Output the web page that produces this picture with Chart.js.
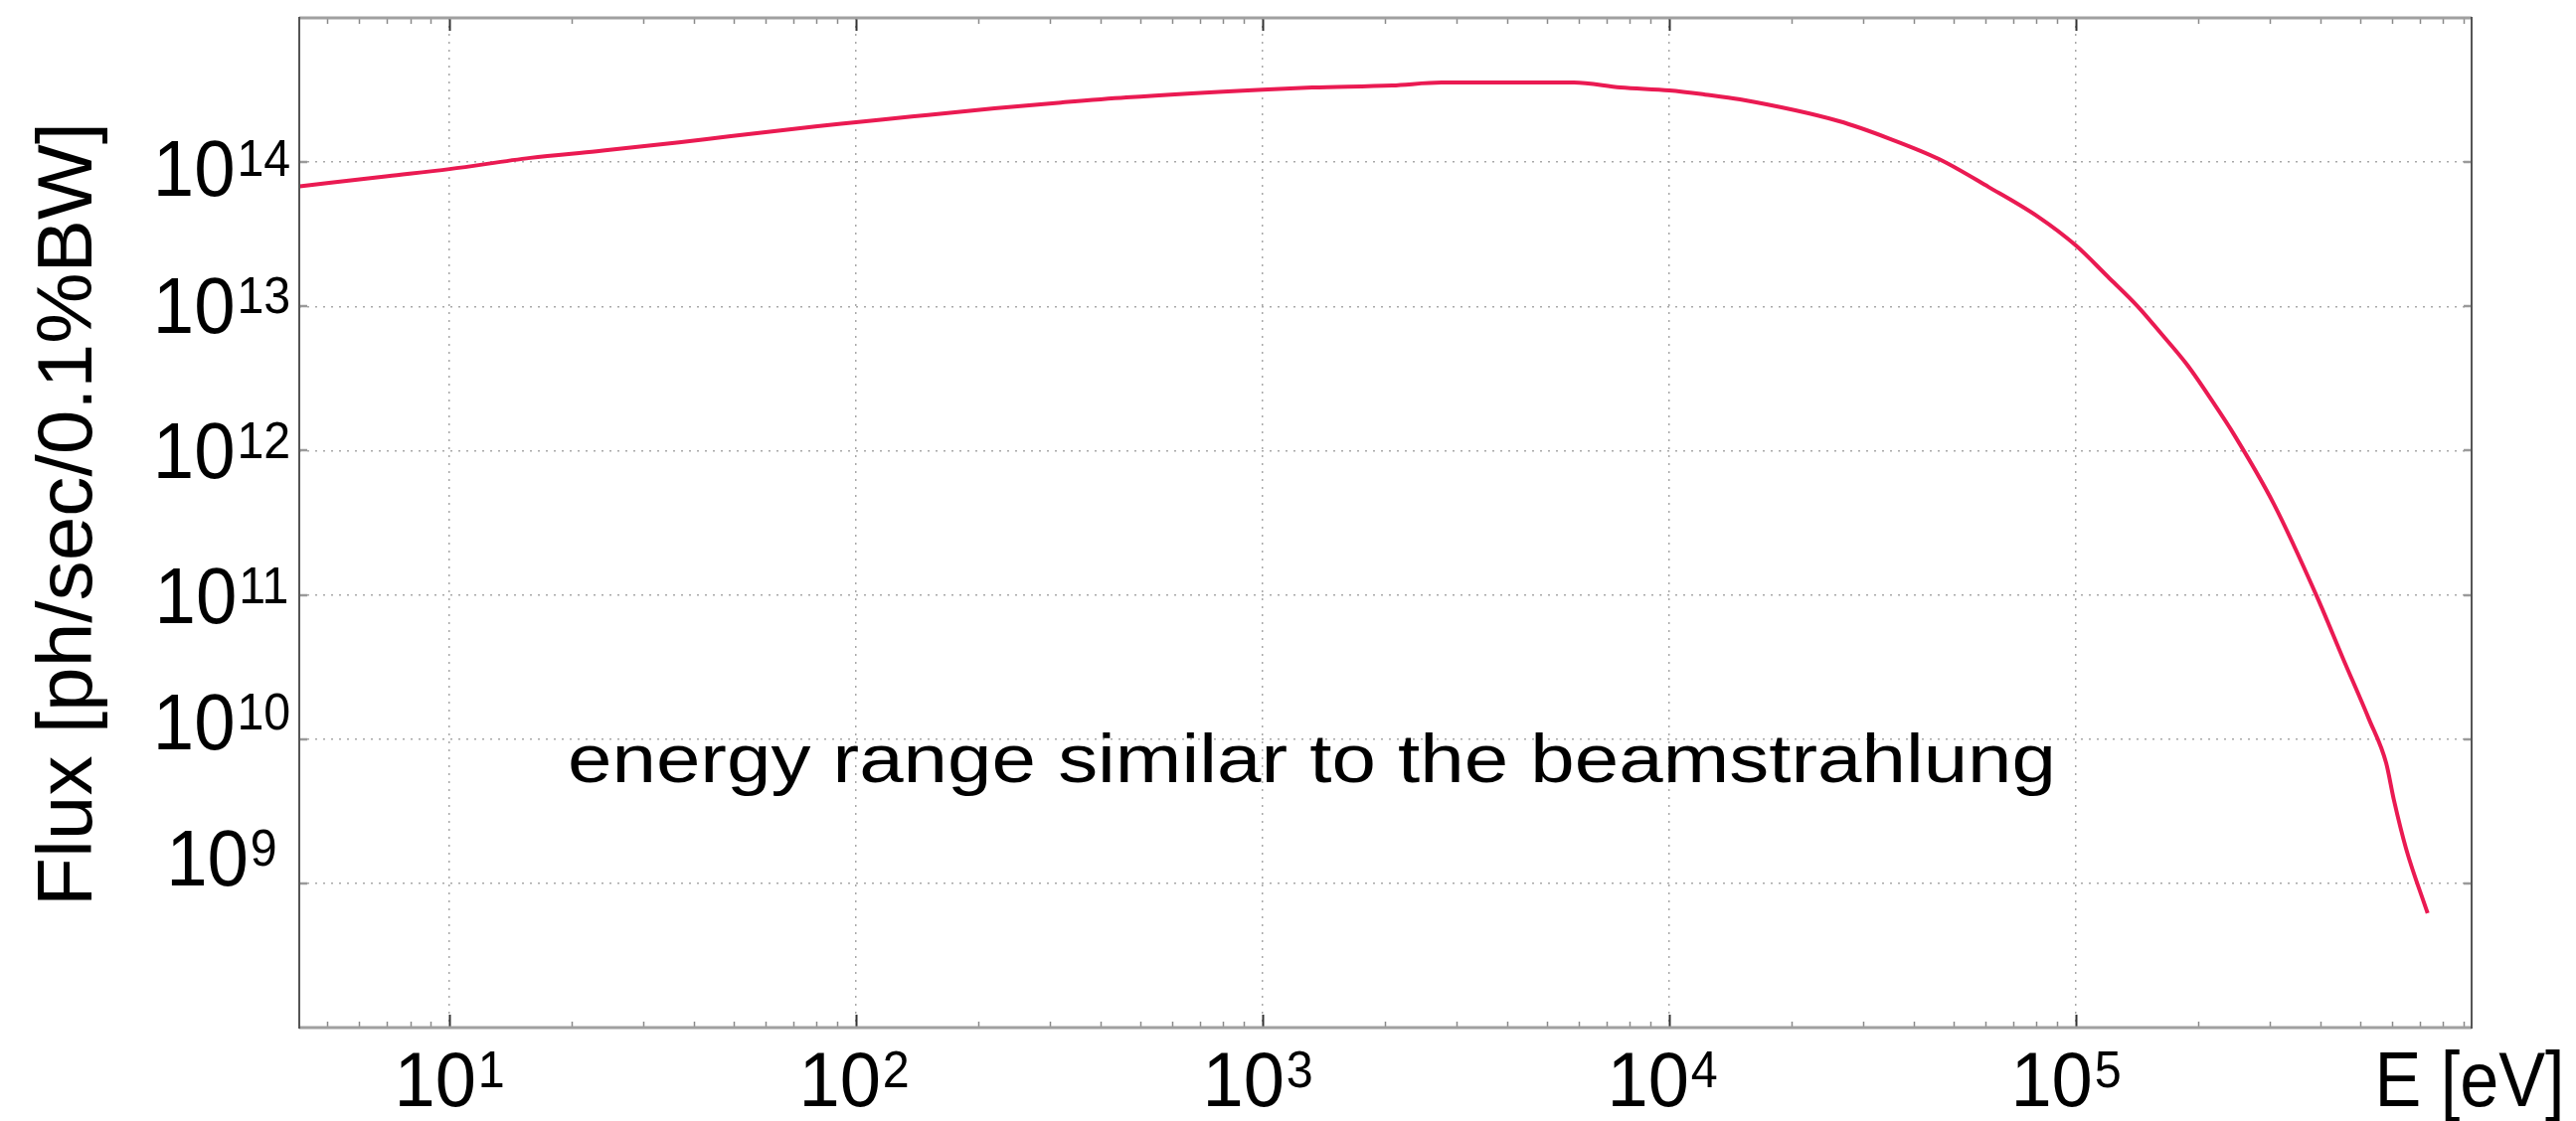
<!DOCTYPE html>
<html>
<head>
<meta charset="utf-8">
<title>Flux spectrum</title>
<script src="https://cdn.jsdelivr.net/npm/chart.js@4.4.1/dist/chart.umd.min.js"></script>
<style>
  html, body { margin: 0; padding: 0; background: #ffffff; }
  #wrap { width: 2591px; height: 1128px; position: relative; }
</style>
</head>
<body>
<div id="wrap"><canvas id="chart" width="2591" height="1128"></canvas></div>
<script>
// Photon energy (eV) and flux (ph/sec/0.1%BW) along the spectrum
const energyEV = [
  4.28, 7.05, 10, 15.8, 23.0, 36.7, 48.6, 79.4, 100, 137, 219, 319, 462,
  1000, 1324, 2080, 2754, 5821, 7586, 10000, 12250, 14930,
  26180, 34670, 46030, 60950, 80720, 100000, 119700, 141900, 163300,
  187900, 216300, 244900, 306900, 390800, 455000, 526000, 579400,
  605300, 648600, 732800
];
const fluxPhotons = [
  6.8e13, 8.0e13, 8.95e13, 1.07e14, 1.19e14, 1.37e14, 1.51e14, 1.77e14,
  1.89e14, 2.07e14, 2.36e14, 2.59e14, 2.81e14, 3.18e14, 3.29e14, 3.40e14,
  3.56e14, 3.56e14, 3.29e14, 3.14e14, 2.94e14, 2.72e14,
  1.92e14, 1.46e14, 1.05e14, 6.73e13, 4.18e13, 2.64e13, 1.61e13, 1.0e13,
  6.31e12, 3.92e12, 2.21e12, 1.29e12, 4.25e11, 9.84e10, 3.56e10, 1.37e10,
  6.82e9, 3.79e9, 1.74e9, 6.2e8
];

// Decade exponents that carry tick labels
const xTickExponents = [1, 2, 3, 4, 5];
const yTickExponents = [9, 10, 11, 12, 13, 14];

// Axis range
const xRange = [4.27, 9.4e5];
const yRange = [1e8, 1e15];

const xAxisName = 'E [eV]';
const yAxisName = 'Flux [ph/sec/0.1%BW]';
const noteText = 'energy range similar to the beamstrahlung';

const FONT = '"Liberation Sans", Arial, Helvetica, sans-serif';

// Draws "10" with a raised exponent, horizontally centred on cx
function drawPower(ctx, exp, cx, baseY, size, supSize, squeeze) {
  ctx.save();
  ctx.font = size + 'px ' + FONT;
  const wBase = ctx.measureText('10').width;
  ctx.font = supSize + 'px ' + FONT;
  const wExp = ctx.measureText(String(exp)).width;
  const gap = 2;
  const total = (wBase + gap + wExp) * squeeze;
  ctx.translate(cx - total / 2, baseY);
  ctx.scale(squeeze, 1);
  ctx.fillStyle = '#000';
  ctx.textAlign = 'left';
  ctx.textBaseline = 'alphabetic';
  ctx.font = size + 'px ' + FONT;
  ctx.fillText('10', 0, 0);
  ctx.font = supSize + 'px ' + FONT;
  const rise = 0.716 * (size - supSize);
  ctx.fillText(String(exp), wBase + gap, -rise);
  ctx.restore();
}

// Draws a string stretched to span a given width
function drawFitted(ctx, text, x, y, size, width) {
  ctx.save();
  ctx.font = size + 'px ' + FONT;
  const w = ctx.measureText(text).width;
  ctx.translate(x, y);
  ctx.scale(width / w, 1);
  ctx.fillStyle = '#000';
  ctx.textAlign = 'left';
  ctx.textBaseline = 'alphabetic';
  ctx.fillText(text, 0, 0);
  ctx.restore();
}

const frameAndLabels = {
  id: 'frameAndLabels',
  afterDraw(chart) {
    const ctx = chart.ctx;
    const xs = chart.scales.x;
    const ys = chart.scales.y;
    const a = chart.chartArea;

    // x ticks: decades long, 2..9 short, inward on bottom and top
    ctx.save();
    for (let n = 0; n <= 6; n++) {
      for (let m = 1; m <= 9; m++) {
        const v = m * Math.pow(10, n);
        if (v < xs.min || v > xs.max) continue;
        const px = Math.round(xs.getPixelForValue(v)) + 0.5;
        const major = m === 1;
        const len = major ? 13 : 6;
        ctx.strokeStyle = major ? '#333' : '#8a8a8a';
        ctx.lineWidth = major ? 2 : 1.5;
        ctx.beginPath();
        ctx.moveTo(px, a.bottom); ctx.lineTo(px, a.bottom - len);
        ctx.moveTo(px, a.top); ctx.lineTo(px, a.top + len);
        ctx.stroke();
      }
    }
    // y ticks at labelled decades
    ctx.strokeStyle = '#9a9a9a';
    ctx.lineWidth = 2.5;
    yTickExponents.forEach(e => {
      const py = Math.round(ys.getPixelForValue(Math.pow(10, e)));
      ctx.beginPath();
      ctx.moveTo(a.left, py); ctx.lineTo(a.left + 8, py);
      ctx.moveTo(a.right, py); ctx.lineTo(a.right - 8, py);
      ctx.stroke();
    });

    // box
    ctx.strokeStyle = '#a0a0a0';
    ctx.lineWidth = 3;
    ctx.beginPath();
    ctx.moveTo(a.left, a.top); ctx.lineTo(a.right, a.top);
    ctx.moveTo(a.left, a.bottom); ctx.lineTo(a.right, a.bottom);
    ctx.stroke();
    ctx.strokeStyle = '#555';
    ctx.lineWidth = 2;
    ctx.beginPath();
    ctx.moveTo(a.left, a.top - 1); ctx.lineTo(a.left, a.bottom + 1);
    ctx.moveTo(a.right, a.top - 1); ctx.lineTo(a.right, a.bottom + 1);
    ctx.stroke();
    ctx.restore();

    // x tick labels
    const xShift = { 1: 0, 2: -2, 3: -5, 4: -7, 5: -10 };
    xTickExponents.forEach(e => {
      const px = xs.getPixelForValue(Math.pow(10, e)) + (xShift[e] || 0);
      drawPower(ctx, e, px, a.bottom + 79, 78, 51, 0.95);
    });
    // axis name placed at the right end of the x axis
    ctx.save();
    ctx.font = '78px ' + FONT;
    const wName = ctx.measureText(xAxisName).width;
    ctx.translate(a.right - 2 - wName * 0.9 / 2, a.bottom + 79);
    ctx.scale(0.9, 1);
    ctx.fillStyle = '#000';
    ctx.textBaseline = 'alphabetic';
    ctx.fillText(xAxisName, 0, 0);
    ctx.restore();

    // y tick labels
    const yBase = { 14: 34, 13: 27, 12: 28, 11: 28, 10: 10, 9: 2 };
    yTickExponents.forEach(e => {
      const py = ys.getPixelForValue(Math.pow(10, e)) + (yBase[e] || 28);
      drawPower(ctx, e, 223, py, 80, 52, 0.93);
    });

    // y axis name, reading upward
    ctx.save();
    ctx.translate(92, 912);
    ctx.rotate(-Math.PI / 2);
    drawFitted(ctx, yAxisName, 0, 0, 78, 789);
    ctx.restore();

    // annotation inside the plot
    drawFitted(ctx, noteText, 571, 787, 68, 1497);
  }
};

new Chart(document.getElementById('chart'), {
  type: 'line',
  data: {
    datasets: [{
      label: 'Flux',
      data: energyEV.map((e, i) => ({ x: e, y: fluxPhotons[i] })),
      borderColor: '#ea1a52',
      borderWidth: 4,
      pointRadius: 0,
      cubicInterpolationMode: 'monotone',
      fill: false
    }]
  },
  options: {
    responsive: false,
    animation: false,
    devicePixelRatio: 1,
    layout: { padding: { left: 301, right: 105, top: 18, bottom: 94 } },
    plugins: {
      legend: { display: false },
      tooltip: { enabled: false },
      title: { display: false }
    },
    scales: {
      x: {
        type: 'logarithmic',
        min: xRange[0],
        max: xRange[1],
        afterBuildTicks: s => { s.ticks = xTickExponents.map(e => ({ value: Math.pow(10, e) })); },
        ticks: { display: false },
        grid: { color: '#a8a8a8', lineWidth: 1.5, drawTicks: false },
        border: { display: false, dash: [2, 6] }
      },
      y: {
        type: 'logarithmic',
        min: yRange[0],
        max: yRange[1],
        afterBuildTicks: s => { s.ticks = yTickExponents.map(e => ({ value: Math.pow(10, e) })); },
        ticks: { display: false },
        grid: { color: '#a8a8a8', lineWidth: 1.5, drawTicks: false },
        border: { display: false, dash: [2, 6] }
      }
    }
  },
  plugins: [frameAndLabels]
});
</script>
</body>
</html>
